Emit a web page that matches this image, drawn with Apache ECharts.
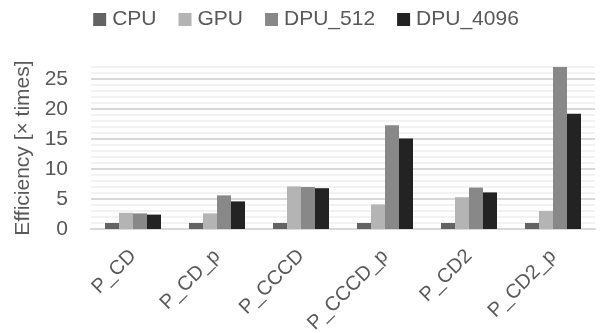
<!DOCTYPE html>
<html>
<head>
<meta charset="utf-8">
<script src="https://cdn.jsdelivr.net/npm/echarts@6/dist/echarts.min.js"></script>
<style>
  html, body { margin: 0; padding: 0; background: #fff; }
  #chart { width: 612px; height: 333px; }
</style>
</head>
<body>
<div id="chart"></div>
<script>
// categories and values
var categories = ['P_CD', 'P_CD_p', 'P_CCCD', 'P_CCCD_p', 'P_CD2', 'P_CD2_p'];
var cpu = [1, 1, 1, 1, 1, 1];
var gpu = [2.7, 2.6, 7.1, 4.1, 5.3, 3.0];
var dpu512 = [2.6, 5.6, 7.0, 17.3, 6.9, 27.0];
var dpu4096 = [2.4, 4.6, 6.8, 15.1, 6.1, 19.2];
var seriesNames = ['CPU', 'GPU', 'DPU_512', 'DPU_4096'];
var colors = ['#636363', '#b4b4b4', '#888888', '#232323'];

var font = 'Liberation Sans';
var textColor = '#595959';

var chart = echarts.init(document.getElementById('chart'));

function bar(name, data, i) {
  return {
    name: name,
    type: 'bar',
    data: data,
    barWidth: 14,
    barGap: '0%',
    itemStyle: { color: colors[i] }
  };
}

var option = {
  animation: false,
  textStyle: { fontFamily: font },
  legend: {
    top: 4,
    left: 'center',
    itemWidth: 13,
    itemHeight: 13,
    itemGap: 22,
    icon: 'rect',
    textStyle: { fontSize: 21, color: textColor, fontFamily: font, padding: [0, 0, 0, 1] },
    data: seriesNames
  },
  grid: { left: 91, right: 17, top: 67, bottom: 104, outerBoundsMode: 'none' },
  xAxis: {
    type: 'category',
    data: categories,
    axisTick: { show: false },
    axisLine: { lineStyle: { color: '#d9d9d9', width: 2 } },
    axisLabel: { rotate: 45, fontSize: 20, color: textColor, margin: 24, interval: 0 }
  },
  yAxis: {
    type: 'value',
    min: 0,
    max: 27,
    interval: 1,
    name: 'Efficiency [\u00d7 times]',
    nameLocation: 'middle',
    nameGap: 57,
    nameTextStyle: { fontSize: 21, color: textColor },
    axisLine: { show: false },
    axisTick: { show: false },
    axisLabel: {
      fontSize: 21,
      color: textColor,
      margin: 23,
      formatter: function (v) { return v % 5 === 0 ? String(v) : ''; }
    },
    splitLine: {
      lineStyle: {
        color: ['#d9d9d9', '#f2f2f2', '#f2f2f2', '#f2f2f2', '#f2f2f2'],
        width: 2
      }
    }
  },
  series: [
    bar(seriesNames[0], cpu, 0),
    bar(seriesNames[1], gpu, 1),
    bar(seriesNames[2], dpu512, 2),
    bar(seriesNames[3], dpu4096, 3)
  ]
};

chart.setOption(option);
</script>
</body>
</html>
